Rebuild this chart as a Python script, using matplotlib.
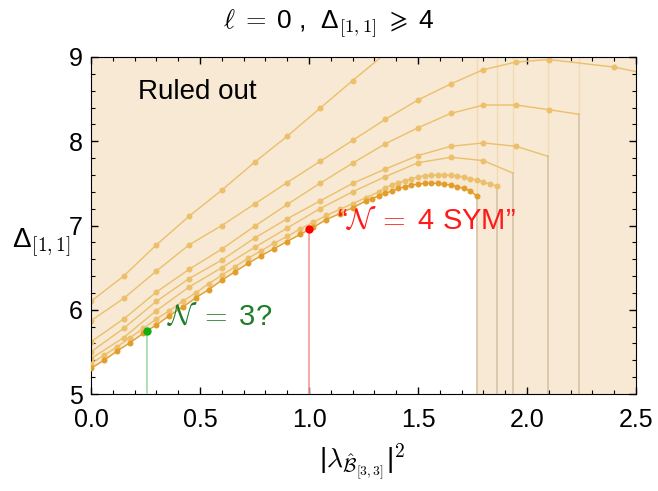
import numpy as np
import matplotlib
matplotlib.use('Agg')
import matplotlib.pyplot as plt
from matplotlib.ticker import MultipleLocator

plt.rcParams['font.family'] = ['Liberation Sans', 'DejaVu Sans']
plt.rcParams['mathtext.fontset'] = 'cm'

# coarse bounds (points every 0.15, last entry = where the curve stops)
xa = [0, .15, .3, .45, .6, .75, .9, 1.05, 1.2, 1.35]
ya = [6.10, 6.40, 6.77, 7.11, 7.42, 7.75, 8.06, 8.39, 8.72, 9.04]

xb = [0, .15, .3, .45, .6, .75, .9, 1.05, 1.2, 1.35, 1.5, 1.65, 1.8, 1.95, 2.1, 2.4, 2.55]
yb = [5.87, 6.135, 6.46, 6.77, 7.00, 7.255, 7.51, 7.76, 8.01, 8.26, 8.49, 8.68, 8.85, 8.94, 8.97, 8.88, 8.80]

xc = [0, .15, .3, .45, .6, .75, .9, 1.05, 1.2, 1.35, 1.5, 1.65, 1.8, 1.95, 2.1, 2.24]
yc = [5.62, 5.89, 6.21, 6.48, 6.72, 6.99, 7.25, 7.50, 7.74, 7.97, 8.16, 8.33, 8.43, 8.43, 8.375, 8.32]

xd = [0, .15, .3, .45, .6, .75, .9, 1.05, 1.2, 1.35, 1.5, 1.65, 1.8, 1.95, 2.098]
yd = [5.50, 5.78, 6.10, 6.37, 6.59, 6.85, 7.08, 7.29, 7.50, 7.67, 7.83, 7.94, 7.98, 7.94, 7.82]

xe = [0, .15, .3, .45, .6, .75, .9, 1.05, 1.2, 1.35, 1.5, 1.65, 1.8, 1.937]
ye = [5.42, 5.67, 5.99, 6.27, 6.50, 6.74, 6.97, 7.20, 7.40, 7.58, 7.745, 7.81, 7.77, 7.62]

# dense bounds
xf = [0, .06, .12, .18, .24, .30, .36, .42, .48, .54, .60, .66, .72, .78, .84, .90, .96,
      1.02, 1.08, 1.14, 1.20, 1.26, 1.32, 1.35, 1.38, 1.41, 1.44, 1.47, 1.50, 1.53, 1.56,
      1.59, 1.62, 1.65, 1.68, 1.71, 1.74, 1.77, 1.80, 1.83, 1.861]
yf = [5.36, 5.46, 5.56, 5.67, 5.78, 5.89, 5.99, 6.10, 6.20, 6.31, 6.41, 6.51, 6.61, 6.70,
      6.79, 6.87, 6.96, 7.04, 7.12, 7.19, 7.26, 7.33, 7.40, 7.45, 7.48, 7.51, 7.53, 7.555,
      7.575, 7.59, 7.595, 7.60, 7.60, 7.595, 7.59, 7.575, 7.555, 7.54, 7.52, 7.49, 7.47]

xg = [0, .06, .12, .18, .24, .30, .36, .42, .48, .54, .60, .66, .72, .78, .84, .90, .96,
      1.02, 1.08, 1.14, 1.20, 1.26, 1.29, 1.32, 1.35, 1.38, 1.41, 1.44, 1.47, 1.50, 1.53,
      1.56, 1.59, 1.62, 1.65, 1.68, 1.71, 1.74, 1.769]
yg = [5.305, 5.40, 5.51, 5.61, 5.72, 5.82, 5.93, 6.03, 6.14, 6.24, 6.35, 6.45, 6.55, 6.64,
      6.725, 6.81, 6.895, 6.98, 7.07, 7.14, 7.21, 7.29, 7.32, 7.35, 7.38, 7.41, 7.44, 7.46,
      7.48, 7.49, 7.50, 7.50, 7.50, 7.49, 7.48, 7.46, 7.44, 7.41, 7.35]

red_pt = (1.0, 6.955)
green_pt = (0.257, 5.75)

light = '#ecbf6a'
dark = '#e29d2a'
shade = '#f7e9d4'

fig = plt.figure(figsize=(6.58, 4.91), dpi=100)
ax = fig.add_axes([91/658, 1-394/491, 545/658, 337/491])
ax.set_xlim(0, 2.5)
ax.set_ylim(5, 9)

# ruled out region: above the lowest curve, and everything past its end
poly_x = xg + [xg[-1], 2.5, 2.5, 0]
poly_y = yg + [5, 5, 9, 9]
ax.fill(poly_x, poly_y, color=shade, lw=0, zorder=0)

# vertical edges where the bounds stop
for xs, ys in [(xg, yg), (xf, yf), (xe, ye), (xd, yd), (xc, yc)]:
    ax.plot([xs[-1], xs[-1]], [5, ys[-1]], color='#d9c6ab', lw=1.3, zorder=1)
    ax.plot([xs[-1], xs[-1]], [ys[-1], 9], color='#f0d29c', lw=1, alpha=0.6, zorder=1)

for xs, ys, n in [(xa, ya, 10), (xb, yb, 16), (xc, yc, 15), (xd, yd, 14), (xe, ye, 13)]:
    ax.plot(xs, ys, color=light, lw=1, marker='o', ms=4.3, mec='none',
            markevery=list(range(n)), zorder=2)
ax.plot(xf, yf, color=light, lw=1, marker='o', ms=4.3, mec='none', zorder=3)
ax.plot(xg, yg, color=dark, lw=1, marker='o', ms=4.3, mec='none', zorder=4)

ax.plot([red_pt[0]] * 2, [5, red_pt[1]], color='#f59a9a', lw=1.2, zorder=5)
ax.plot([green_pt[0]] * 2, [5, green_pt[1]], color='#a5d9a5', lw=1.2, zorder=5)
ax.plot(*red_pt, 'o', color='#ff0000', ms=6, mec='none', zorder=6)
ax.plot(*green_pt, 'o', color='#10b010', ms=6, mec='none', zorder=6)

ax.text(0.216, 8.585, 'Ruled out', fontsize=20, va='center', ha='left', zorder=10)
ax.text(0.35, 5.91, r'$\mathcal{N}\;=\;$3?', color='#1e7d28', fontsize=21,
        va='center', zorder=10)
ax.text(1.13, 7.05, '“' + r'$\mathcal{N}\;=\;$4 SYM”', color='#ff1a1a', fontsize=21,
        va='center', zorder=10)

ax.xaxis.set_major_locator(MultipleLocator(0.5))
ax.xaxis.set_minor_locator(MultipleLocator(0.1))
ax.yaxis.set_major_locator(MultipleLocator(1))
ax.yaxis.set_minor_locator(MultipleLocator(0.2))
ax.xaxis.set_major_formatter(plt.FormatStrFormatter('%.1f'))
ax.tick_params(which='both', direction='in', top=True, right=True, labelsize=18)
ax.tick_params(which='major', length=5, width=1)
ax.tick_params(which='minor', length=3, width=0.8)
ax.tick_params(axis='x', which='major', pad=10)
ax.tick_params(axis='y', which='major', pad=6)

fig.text(0.5, 1-24/491, r'$\ell\;=\;$0 ,  Δ$_{[1,1]}\;\geqslant\;$4', ha='center', va='center', fontsize=19)
fig.text(41/658, 1-243/491, 'Δ$_{[1,1]}$', ha='center', va='center', fontsize=20)
fig.text(362/658, 1-462/491, r'|$\lambda_{\hat{\mathcal{B}}_{[3,3]}}$|$^2$', ha='center', va='center', fontsize=20)

fig.savefig('out.png', dpi=100)
